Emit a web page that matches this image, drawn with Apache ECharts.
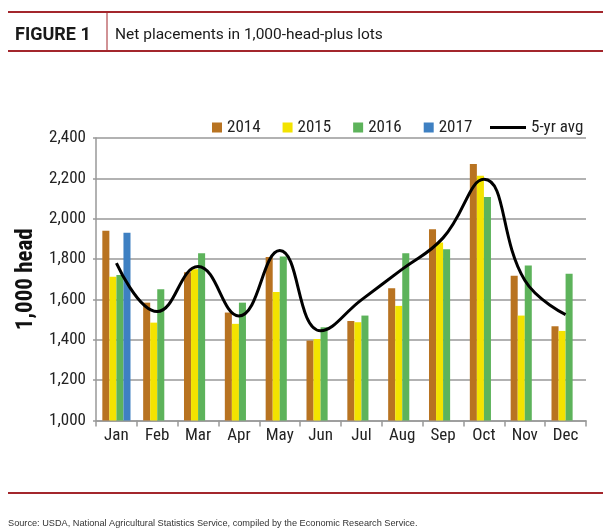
<!DOCTYPE html>
<html style="height: 100%">
<head>
    <meta charset="utf-8">
    <script src="https://cdn.jsdelivr.net/npm/echarts@6/dist/echarts.min.js"></script>
</head>
<body style="height: 100%; margin: 0; background: #fff">
<div id="container" style="width: 610px; height: 531px"></div>

<script type="text/javascript">
    var months = ['Jan', 'Feb', 'Mar', 'Apr', 'May', 'Jun', 'Jul', 'Aug', 'Sep', 'Oct', 'Nov', 'Dec'];
    var y2014 = [1940, 1584, 1735, 1535, 1810, 1396, 1493, 1656, 1948, 2271, 1717, 1467];
    var y2015 = [1713, 1485, 1750, 1479, 1637, 1404, 1487, 1568, 1882, 2213, 1520, 1444];
    var y2016 = [1721, 1651, 1829, 1584, 1813, 1462, 1520, 1829, 1849, 2107, 1768, 1727];
    var y2017 = [1931, null, null, null, null, null, null, null, null, null, null, null];
    var avg5 = [1780, 1540, 1763, 1518, 1842, 1445, 1598, 1750, 1905, 2195, 1695, 1525];

    var narrow = "'Roboto Condensed', 'DejaVu Sans Condensed', sans-serif";
    var red = '#a3262c';

    var dom = document.getElementById("container");
    var myChart = echarts.init(dom);

    function barSeries(name, data, color) {
        return {
            name: name,
            type: 'bar',
            data: data,
            barGap: '0%',
            barCategoryGap: '31%',
            itemStyle: {color: color},
            animation: false
        };
    }

    var legendText = {fontFamily: narrow, fontSize: 17, color: '#222'};

    var option = {
        backgroundColor: '#fff',
        title: [{
            text: 'FIGURE 1',
            left: 10,
            top: 21,
            textStyle: {fontFamily: 'Roboto', fontWeight: 'bold', fontSize: 18, color: '#1a1a1a'}
        }, {
            text: 'Net placements in 1,000-head-plus lots',
            left: 110,
            top: 22,
            textStyle: {fontFamily: 'Roboto', fontWeight: 'normal', fontSize: 15.5, color: '#1a1a1a'}
        }, {
            text: 'Source: USDA, National Agricultural Statistics Service, compiled by the Economic Research Service.',
            left: 3,
            top: 514,
            textStyle: {fontFamily: "'Liberation Sans'", fontWeight: 'normal', fontSize: 9.2, color: '#333'}
        }],
        graphic: [
            {type: 'line', shape: {x1: 8, y1: 12, x2: 603, y2: 12}, style: {stroke: red, lineWidth: 2}},
            {type: 'line', shape: {x1: 8, y1: 51, x2: 603, y2: 51}, style: {stroke: red, lineWidth: 2}},
            {type: 'line', shape: {x1: 107, y1: 12, x2: 107, y2: 51}, style: {stroke: red, lineWidth: 1}},
            {type: 'line', shape: {x1: 8, y1: 493, x2: 603, y2: 493}, style: {stroke: red, lineWidth: 2}}
        ],
        legend: [{
            top: 114,
            left: 207,
            itemGap: 22,
            itemWidth: 10,
            itemHeight: 10,
            textStyle: legendText,
            data: [
                {name: '2014', icon: 'rect'},
                {name: '2015', icon: 'rect'},
                {name: '2016', icon: 'rect'},
                {name: '2017', icon: 'rect'}
            ]
        }, {
            top: 114,
            left: 485,
            itemWidth: 36,
            itemHeight: 10,
            textStyle: legendText,
            data: [
                {name: '5-yr avg', icon: 'path://M0,0 L36,0 L36,3 L0,3 Z', itemStyle: {color: '#000'}}
            ]
        }],
        grid: {
            left: 96,
            right: 24,
            top: 138,
            bottom: 110.5
        },
        xAxis: {
            type: 'category',
            data: months,
            axisLine: {lineStyle: {color: '#999', width: 1.5}},
            axisTick: {show: true, length: 6, lineStyle: {color: '#999', width: 1.5}},
            axisLabel: {fontFamily: narrow, fontSize: 17, color: '#222', margin: 7, interval: 0}
        },
        yAxis: {
            type: 'value',
            min: 1000,
            max: 2400,
            interval: 200,
            name: '1,000 head',
            nameLocation: 'middle',
            nameGap: 55,
            nameTextStyle: {fontFamily: narrow, fontWeight: 'bold', fontSize: 23, color: '#111'},
            axisLine: {show: true, lineStyle: {color: '#999', width: 1.5}},
            axisTick: {show: true, length: 3, lineStyle: {color: '#999', width: 1.5}},
            axisLabel: {
                fontFamily: narrow, fontSize: 17, color: '#222', margin: 10,
                formatter: function (v) { return v.toLocaleString('en-US'); }
            },
            splitLine: {lineStyle: {color: '#999', width: 1.5}}
        },
        series: [
            barSeries('2014', y2014, '#b87321'),
            barSeries('2015', y2015, '#f3e300'),
            barSeries('2016', y2016, '#5db35b'),
            barSeries('2017', y2017, '#3e80c2'),
            {
                name: '5-yr avg',
                type: 'line',
                data: avg5,
                smooth: 0.45,
                symbol: 'none',
                lineStyle: {color: '#000', width: 3},
                itemStyle: {color: '#000'},
                z: 5,
                animation: false
            }
        ]
    };

    myChart.setOption(option, true);
</script>
</body>
</html>
